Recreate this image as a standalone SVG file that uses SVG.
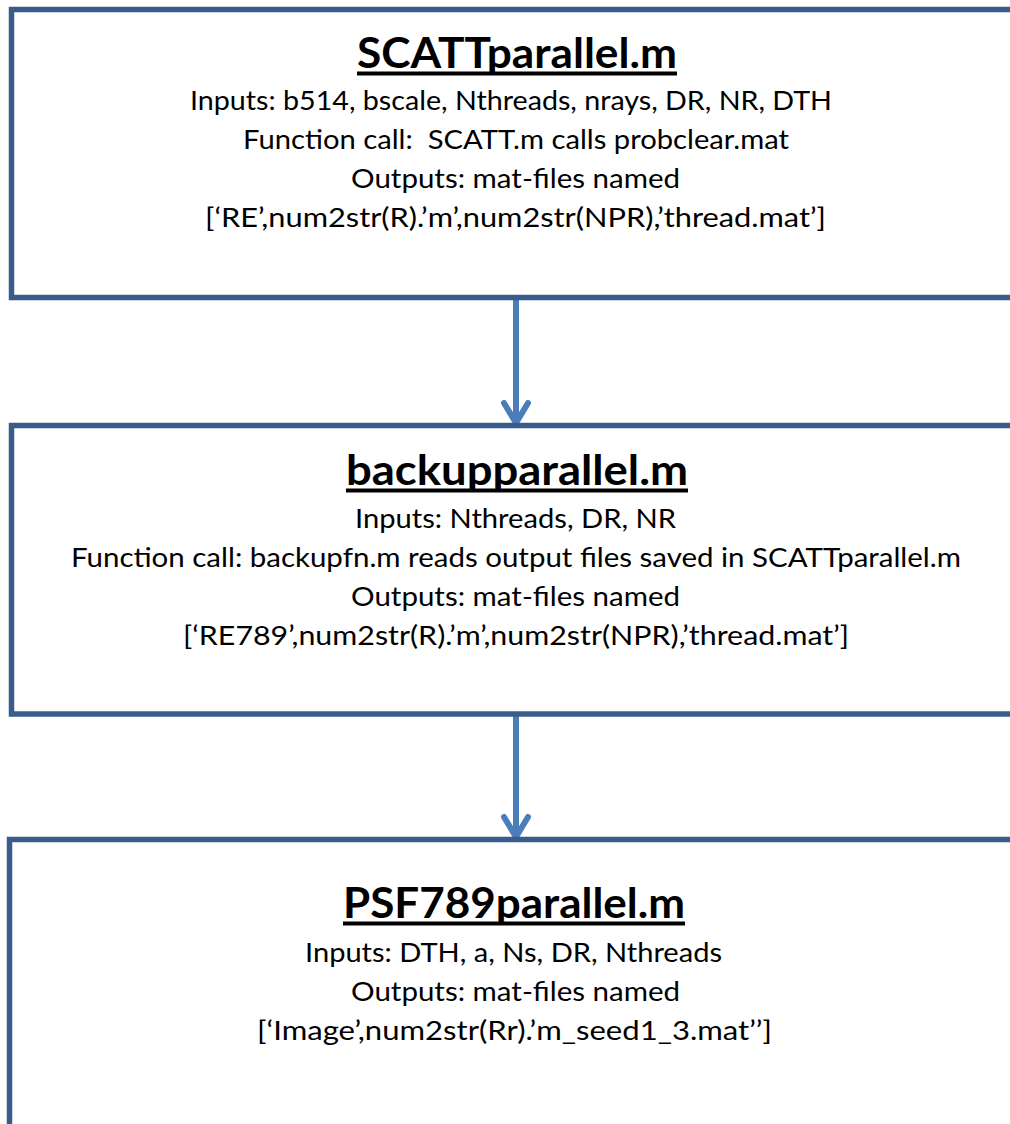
<svg xmlns="http://www.w3.org/2000/svg" width="1010" height="1124" viewBox="0 0 1010 1124">
<style>
.box{fill:#ffffff;stroke:#385d8a;stroke-width:5.5}
.title{font-family:Lato,"Liberation Sans",sans-serif;font-weight:bold;font-size:42px;fill:#000;text-anchor:middle}
.body{font-family:Lato,"Liberation Sans",sans-serif;font-size:27.5px;fill:#000;text-anchor:middle}
.ul{fill:#000}
.conn{fill:none;stroke:#4a7ebb;stroke-width:6;stroke-linecap:round;stroke-linejoin:round}
</style>
<rect width="1010" height="1124" fill="#ffffff"/>
<g id="connectors">
<path class="conn" d="M516 300 V422 M504 403 L516 423 L528 403"/>
<path class="conn" d="M516 717 V836 M504 817 L516 837 L528 817"/>
</g>
<g id="node-scatt">
<rect class="box" x="11.5" y="9.5" width="1100" height="288"/>
<text class="title" x="517" y="68" textLength="320" lengthAdjust="spacingAndGlyphs">SCATTparallel.m</text>
<rect class="ul" x="357" y="71.5" width="320" height="4"/>
<text class="body" x="511" y="110" textLength="642" lengthAdjust="spacingAndGlyphs">Inputs: b514, bscale, Nthreads, nrays, DR, NR, DTH</text>
<text class="body" x="516" y="149" textLength="546" lengthAdjust="spacingAndGlyphs" xml:space="preserve">Function call:  SCATT.m calls probclear.mat</text>
<text class="body" x="515.5" y="188" textLength="329" lengthAdjust="spacingAndGlyphs">Outputs: mat-files named</text>
<text class="body" x="515.5" y="227" textLength="621" lengthAdjust="spacingAndGlyphs">[‘RE’,num2str(R).’m’,num2str(NPR),’thread.mat’]</text>
</g>
<g id="node-backup">
<rect class="box" x="11.5" y="425.5" width="1100" height="288.5"/>
<text class="title" x="517" y="485" textLength="342" lengthAdjust="spacingAndGlyphs">backupparallel.m</text>
<rect class="ul" x="346" y="488.5" width="342" height="4"/>
<text class="body" x="515.5" y="528" textLength="321" lengthAdjust="spacingAndGlyphs">Inputs: Nthreads, DR, NR</text>
<text class="body" x="516" y="567" textLength="890" lengthAdjust="spacingAndGlyphs">Function call: backupfn.m reads output files saved in SCATTparallel.m</text>
<text class="body" x="515.5" y="606" textLength="329" lengthAdjust="spacingAndGlyphs">Outputs: mat-files named</text>
<text class="body" x="516" y="645" textLength="666" lengthAdjust="spacingAndGlyphs">[‘RE789’,num2str(R).’m’,num2str(NPR),’thread.mat’]</text>
</g>
<g id="node-psf">
<rect class="box" x="9.5" y="839.5" width="1100" height="400"/>
<text class="title" x="514" y="918" textLength="342" lengthAdjust="spacingAndGlyphs">PSF789parallel.m</text>
<rect class="ul" x="343" y="921.5" width="342" height="4"/>
<text class="body" x="513.5" y="962" textLength="417" lengthAdjust="spacingAndGlyphs">Inputs: DTH, a, Ns, DR, Nthreads</text>
<text class="body" x="515.5" y="1001" textLength="329" lengthAdjust="spacingAndGlyphs">Outputs: mat-files named</text>
<text class="body" x="514.5" y="1040" textLength="515" lengthAdjust="spacingAndGlyphs">[‘Image’,num2str(Rr).’m_seed1_3.mat’’]</text>
</g>
</svg>
